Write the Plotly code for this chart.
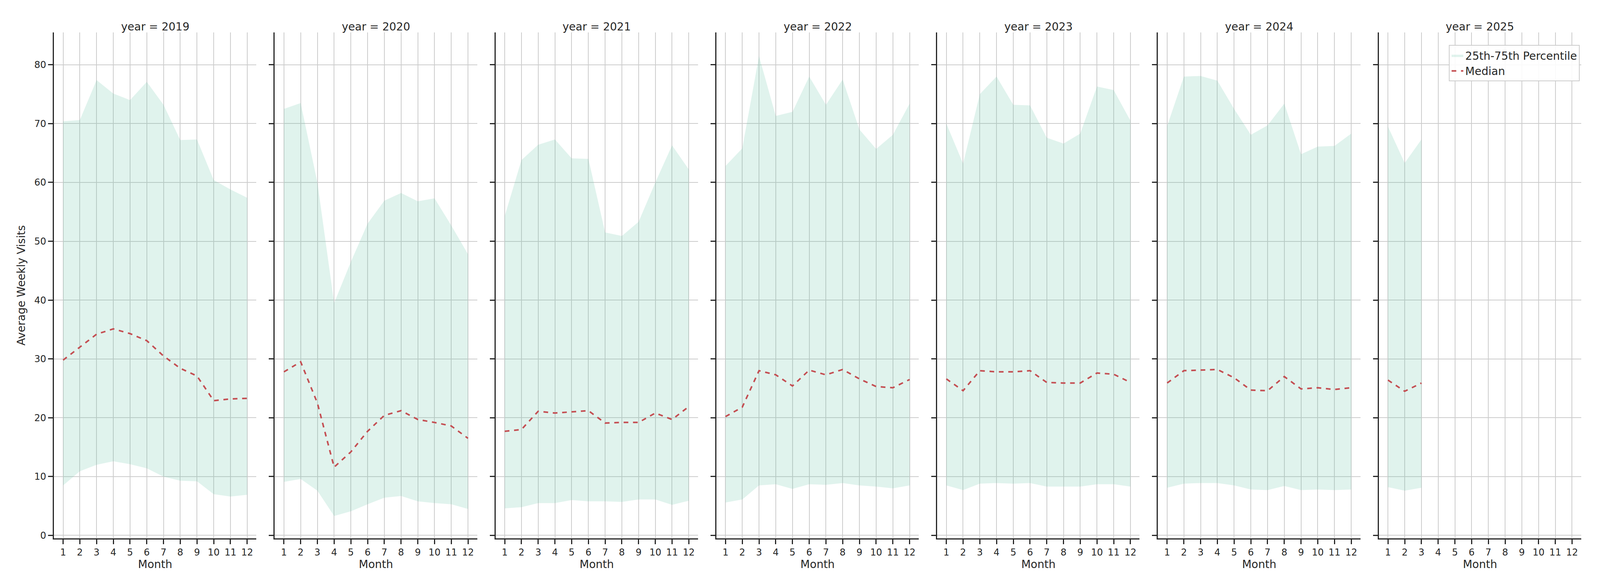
import plotly.graph_objects as go
from plotly.subplots import make_subplots

years = [2019, 2020, 2021, 2022, 2023, 2024, 2025]
months = list(range(1, 13))

upper = {
    2019: [70.4, 70.6, 77.4, 75.1, 74.0, 77.1, 73.2, 67.2, 67.3, 60.4, 58.8, 57.4],
    2020: [72.5, 73.5, 60.0, 39.5, 46.5, 53.0, 56.9, 58.2, 56.8, 57.3, 52.7, 47.8],
    2021: [54.3, 63.8, 66.4, 67.3, 64.1, 64.0, 51.5, 50.9, 53.3, 60.0, 66.3, 62.2],
    2022: [62.8, 65.8, 81.5, 71.3, 72.0, 78.0, 73.2, 77.5, 69.0, 65.7, 68.1, 73.4],
    2023: [70.0, 63.2, 75.0, 78.0, 73.2, 73.1, 67.6, 66.6, 68.3, 76.3, 75.7, 70.5],
    2024: [69.6, 78.0, 78.1, 77.3, 72.5, 68.1, 69.7, 73.4, 64.8, 66.1, 66.2, 68.3],
    2025: [69.5, 63.3, 67.3],
}
median = {
    2019: [29.8, 32.0, 34.2, 35.1, 34.3, 33.1, 30.5, 28.4, 27.1, 22.9, 23.2, 23.3],
    2020: [27.8, 29.5, 22.5, 11.6, 14.2, 17.7, 20.4, 21.2, 19.7, 19.2, 18.6, 16.5],
    2021: [17.7, 18.0, 21.1, 20.8, 21.0, 21.2, 19.1, 19.2, 19.2, 20.8, 19.7, 21.9],
    2022: [20.2, 21.8, 28.0, 27.3, 25.4, 28.1, 27.3, 28.2, 26.6, 25.3, 25.1, 26.5],
    2023: [26.6, 24.6, 28.0, 27.8, 27.8, 28.0, 26.0, 25.9, 25.9, 27.6, 27.4, 26.0],
    2024: [25.9, 28.0, 28.1, 28.2, 26.8, 24.7, 24.6, 27.0, 24.9, 25.1, 24.8, 25.1],
    2025: [26.4, 24.5, 25.9],
}
lower = {
    2019: [8.5, 10.9, 12.0, 12.6, 12.1, 11.4, 10.0, 9.3, 9.2, 7.0, 6.6, 6.9],
    2020: [9.1, 9.6, 7.6, 3.3, 4.1, 5.3, 6.4, 6.7, 5.8, 5.5, 5.3, 4.5],
    2021: [4.6, 4.8, 5.5, 5.5, 6.0, 5.8, 5.8, 5.7, 6.1, 6.1, 5.2, 5.9],
    2022: [5.6, 6.1, 8.5, 8.7, 7.9, 8.7, 8.6, 8.9, 8.5, 8.3, 8.0, 8.5],
    2023: [8.5, 7.7, 8.8, 8.9, 8.8, 8.9, 8.3, 8.3, 8.3, 8.7, 8.7, 8.3],
    2024: [8.1, 8.8, 8.9, 8.9, 8.5, 7.8, 7.7, 8.4, 7.7, 7.8, 7.7, 7.8],
    2025: [8.2, 7.6, 8.1],
}

fill_color = "rgba(102,194,165,0.2)"
line_color = "#c44e52"

fig = make_subplots(rows=1, cols=7, shared_yaxes=True, horizontal_spacing=0.012,
                    subplot_titles=[f"year = {y}" for y in years])

for i, y in enumerate(years):
    col = i + 1
    m = months[:len(median[y])]
    first = i == 0
    fig.add_trace(go.Scatter(x=m, y=lower[y], mode="lines", line=dict(width=0),
                             showlegend=False, hoverinfo="skip"), row=1, col=col)
    fig.add_trace(go.Scatter(x=m, y=upper[y], mode="lines", line=dict(width=0),
                             fill="tonexty", fillcolor=fill_color,
                             name="25th-75th Percentile", showlegend=first,
                             legendrank=2), row=1, col=col)
    fig.add_trace(go.Scatter(x=m, y=median[y], mode="lines",
                             line=dict(color=line_color, width=4, dash="dash"),
                             name="Median", showlegend=first, legendrank=1),
                  row=1, col=col)

fig.update_xaxes(range=[0.45, 12.55], tickvals=months, showgrid=True,
                 gridcolor="#cccccc", gridwidth=2, showline=True, linecolor="#262626",
                 linewidth=3, ticks="outside", ticklen=12, tickwidth=3,
                 tickcolor="#262626", zeroline=False, title_text="Month",
                 title_font_size=28, tickfont_size=24, title_standoff=6)
fig.update_yaxes(range=[-0.5, 85.5], tickvals=list(range(0, 81, 10)), showgrid=True,
                 gridcolor="#cccccc", gridwidth=2, showline=True, linecolor="#262626",
                 linewidth=3, ticks="outside", ticklen=12, tickwidth=3,
                 tickcolor="#262626", zeroline=False, tickfont_size=24)
fig.update_yaxes(title_text="Average Weekly Visits", title_font_size=28, row=1, col=1)

fig.update_annotations(font_size=28, yshift=-4)

fig.update_layout(
    autosize=True, plot_bgcolor="white", paper_bgcolor="white",
    font=dict(family="DejaVu Sans", color="#262626"),
    margin=dict(l=130, r=40, t=75, b=130),
    legend=dict(x=0.999, y=0.975, xanchor="right", yanchor="top",
                bgcolor="rgba(255,255,255,0.9)", bordercolor="#cccccc", borderwidth=2,
                font_size=28),
)

fig.write_html("out.html", default_width="100%", default_height="100vh")
